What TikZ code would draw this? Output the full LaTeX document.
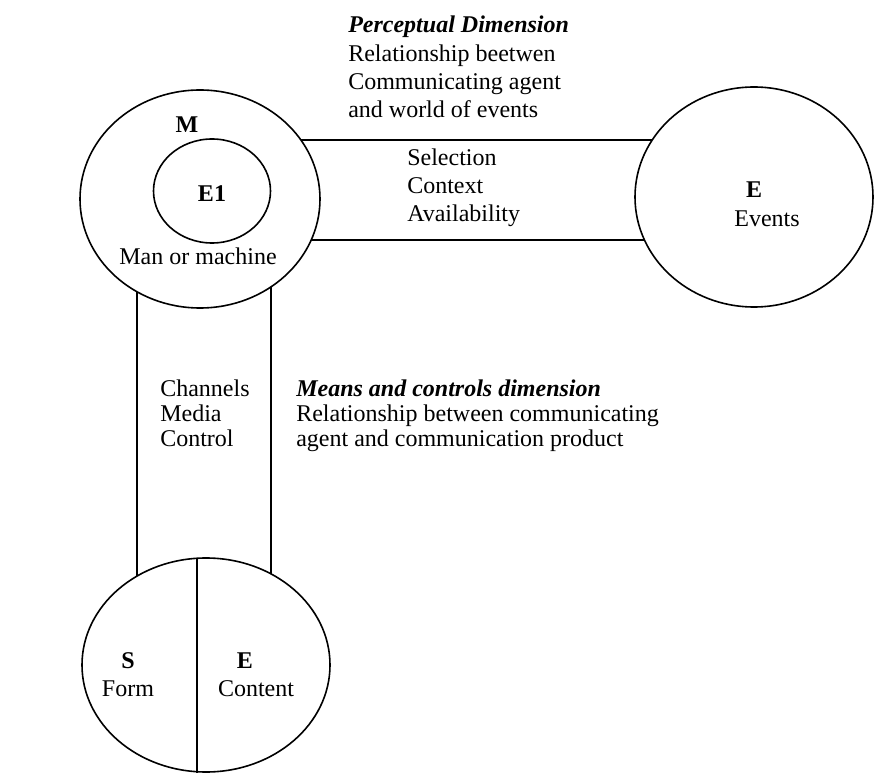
\documentclass[tikz,border=0pt]{standalone}
\usepackage{fontspec}
\setmainfont{Liberation Serif}
\usetikzlibrary{shapes.geometric,backgrounds}
\begin{document}
\begin{tikzpicture}[x=0.75pt,y=-0.75pt,
  ring/.style={ellipse,draw,line width=1.2pt,fill=white,inner sep=0pt},
  band/.style={line width=1.2pt},
  txt/.style={font=\fontsize{18}{21.2}\selectfont,inner sep=0pt,anchor=base},
  btxt/.style={font=\fontsize{18}{21.2}\selectfont\bfseries,inner sep=0pt,anchor=base},
  blockA/.style={font=\fontsize{18}{21.3}\selectfont,inner sep=0pt,align=left,anchor=base west},
  blockB/.style={font=\fontsize{18}{18.75}\selectfont,inner sep=0pt,align=left,anchor=base west},
]
\useasboundingbox (0,0) rectangle (875,773);

% circles
\node[ring,minimum width=180pt,minimum height=163.5pt] (M) at (200,199) {};
\node[ring,minimum width=87.75pt,minimum height=78pt] (E1) at (212,191) {};
\node[ring,minimum width=178.5pt,minimum height=165pt] (Ev) at (754,197) {};
\node[ring,minimum width=186pt,minimum height=160.5pt] (B) at (206,665) {};

% bands (behind the circles)
\begin{pgfonlayer}{background}
\draw[band] (M.center |- 0,140) -- (Ev.center |- 0,140);
\draw[band] (M.center |- 0,240) -- (Ev.center |- 0,240);
\draw[band] (M.center -| 137,0) -- (B.center -| 137,0);
\draw[band] (M.center -| 271,0) -- (B.center -| 271,0);
\end{pgfonlayer}

% divider of the bottom circle
\coordinate (dtop) at (197,558.3);
\coordinate (dbot) at (197,773);
\draw[band] (dtop) -- (dbot);

% labels in circles
\node[btxt] (lM) at (187,133) {M};
\node[btxt] (lE1) at (212,202) {E1};
\node[txt] (lMan) at (198,265) {Man or machine};
\node[btxt] (lE) at (754,198) {E};
\node[txt] (lEvents) at (767,227) {Events};
\node[btxt] (lS) at (128,668) {S};
\node[txt] (lForm) at (128,696) {Form};
\node[btxt] (lE2) at (245,668) {E};
\node[txt] (lContent) at (256,696) {Content};

% text blocks (base anchor = baseline of the last line)
\node[blockA] (perc) at (348,118) {{\bfseries\itshape Perceptual Dimension}\\Relationship beetwen\\Communicating agent\\and world of events};
\node[blockA] (sel) at (407,222) {Selection\\Context\\Availability};
\node[blockB] (chan) at (160,447) {Channels\\Media\\Control};
\node[blockB] (means) at (296,447) {{\bfseries\itshape Means and controls dimension}\\Relationship between communicating\\agent and communication product};
\end{tikzpicture}
\end{document}
